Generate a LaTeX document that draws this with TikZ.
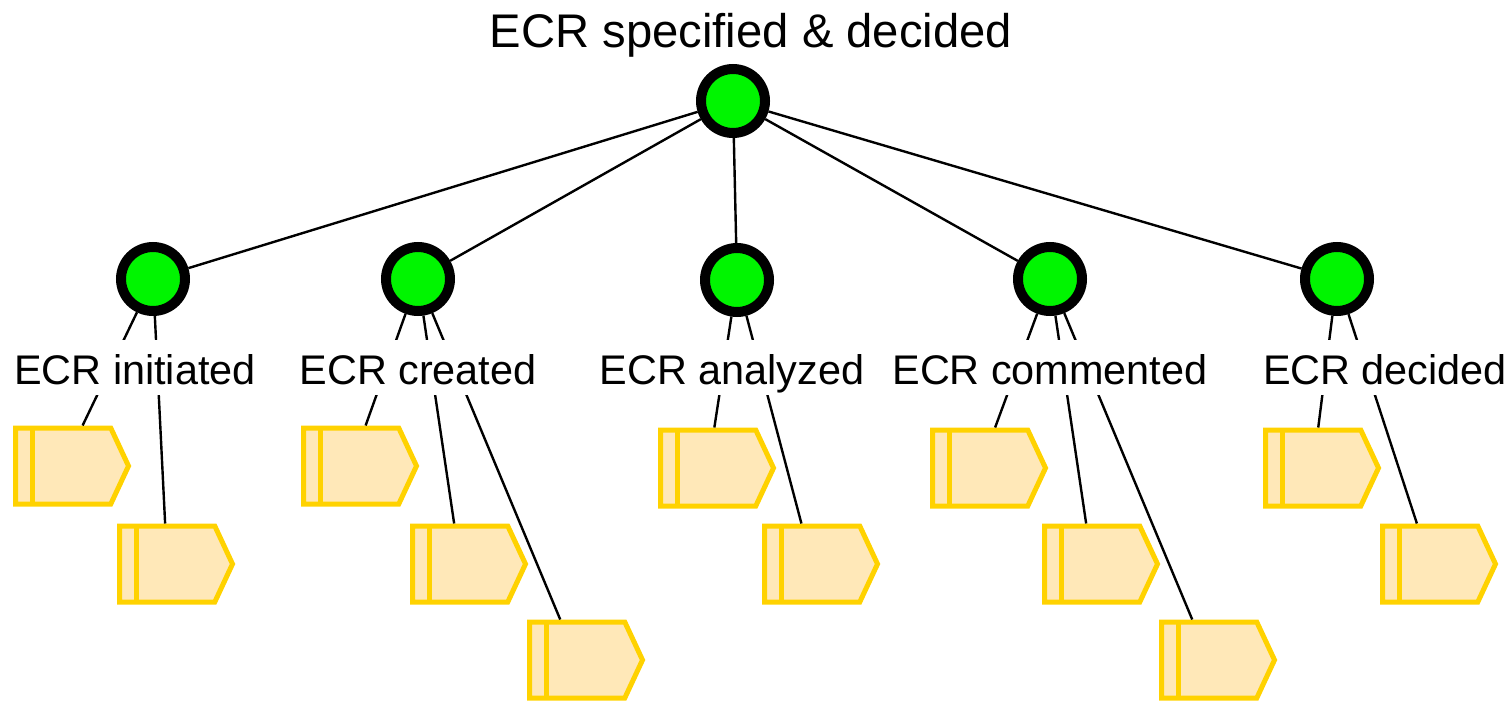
\documentclass[tikz,border=0pt]{standalone}
\usepackage{fontspec}
\setmainfont{Liberation Sans}
\usetikzlibrary{shapes.symbols}
\definecolor{okgreen}{RGB}{0,245,0}
\definecolor{evtgold}{RGB}{255,210,0}
\definecolor{evtfill}{RGB}{255,232,184}
\begin{document}
\begin{tikzpicture}[x=0.5pt,y=-0.5pt,
    state/.style={circle, draw=black, line width=5pt, fill=okgreen, minimum size=32pt, inner sep=0pt},
    event/.style={signal, signal to=east, signal pointer angle=130, draw=evtgold, fill=evtfill,
        line width=2.5pt, minimum width=56.5pt, minimum height=38pt, inner sep=0pt, anchor=west,
        path picture={\draw[evtgold, line width=2.5pt] ([xshift=8.25pt]path picture bounding box.north west) -- ([xshift=8.25pt]path picture bounding box.south west);}},
    lab/.style={fill=white, inner xsep=2pt, inner ysep=2pt, text height=20pt, text depth=3.5pt,
        font=\fontsize{20.7}{24}\selectfont, anchor=base},
    link/.style={draw=black, line width=1.2pt}]
    \useasboundingbox (0,0) rectangle (1511,701);
    % states
    \node[state] (spec) at (733,101) {};
    \node[state] (init) at (153,279) {};
    \node[state] (crea) at (418,279) {};
    \node[state] (anal) at (737,280) {};
    \node[state] (comm) at (1050,279) {};
    \node[state] (deci) at (1337,279) {};
    % events (left edge, middle)
    \node[event] (init1) at (13,466) {};
    \node[event] (init2) at (117,564) {};
    \node[event] (crea1) at (301,466) {};
    \node[event] (crea2) at (410,564) {};
    \node[event] (crea3) at (527,660) {};
    \node[event] (anal1) at (658,468) {};
    \node[event] (anal2) at (762,564) {};
    \node[event] (comm1) at (930,468) {};
    \node[event] (comm2) at (1042,564) {};
    \node[event] (comm3) at (1159,660) {};
    \node[event] (deci1) at (1263,468) {};
    \node[event] (deci2) at (1380,564) {};
    % links
    \foreach \s in {init,crea,anal,comm,deci}
        \draw[link] (spec) -- (\s);
    \foreach \s/\e in {init/init1,init/init2,crea/crea1,crea/crea2,crea/crea3,anal/anal1,anal/anal2,
        comm/comm1,comm/comm2,comm/comm3,deci/deci1,deci/deci2}
        \draw[link] (\s) -- (\e);
    % labels
    \node[lab, font=\fontsize{23.6}{28}\selectfont] (lspec) at (751,48) {ECR specified \& decided};
    \node[lab] (linit) at (135,384) {ECR initiated};
    \node[lab] (lcrea) at (418,384) {ECR created};
    \node[lab] (lanal) at (732,384) {ECR analyzed};
    \node[lab] (lcomm) at (1050,384) {ECR commented};
    \node[lab] (ldeci) at (1385,384) {ECR decided};
\end{tikzpicture}
\end{document}
